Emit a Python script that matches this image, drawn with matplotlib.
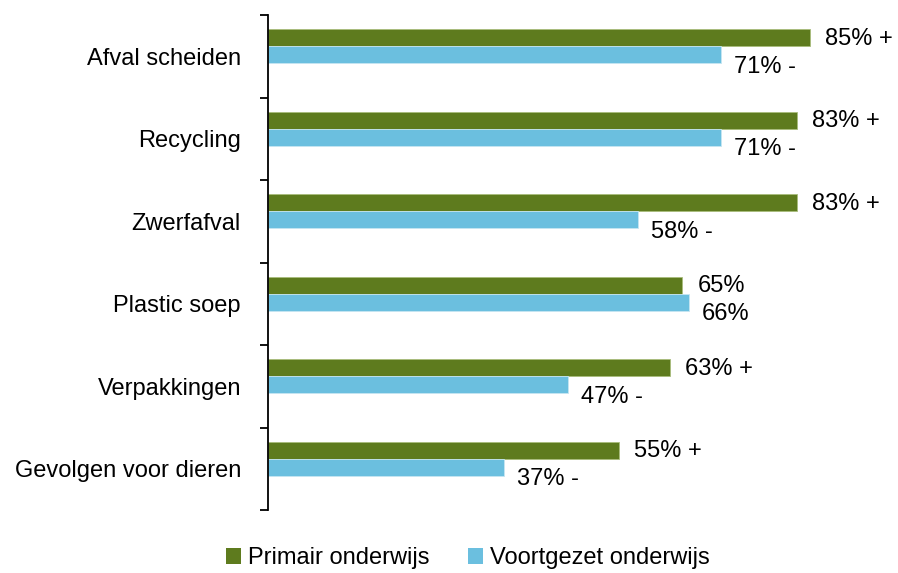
import matplotlib
matplotlib.use("Agg")
import matplotlib.pyplot as plt
import matplotlib.transforms as mtransforms
from matplotlib.patches import Patch
import numpy as np

plt.rcParams["font.family"] = ["Liberation Sans", "DejaVu Sans"]

# dati
categorie = ["Afval scheiden", "Recycling", "Zwerfafval", "Plastic soep",
             "Verpakkingen", "Gevolgen voor dieren"]
primair = [85, 83, 83, 65, 63, 55]
voortgezet = [71, 71, 58, 66, 47, 37]
label_primair = ["85% +", "83% +", "83% +", "65%", "63% +", "55% +"]
label_voortgezet = ["71% -", "71% -", "58% -", "66%", "47% -", "37% -"]
serie = ["Primair onderwijs", "Voortgezet onderwijs"]

col_groen = "#5e7b1e"
col_blauw = "#6bbfdf"

W, H = 898, 573
fig = plt.figure(figsize=(W / 100, H / 100), dpi=100)
px_per = 6.376
xmax = 94
ax = fig.add_axes([268 / W, (H - 510) / H, xmax * px_per / W, 495 / H])

y = np.arange(len(categorie))
h = 0.206
shift = -0.12  # le barre stanno un po' sopra il centro della categoria
ax.barh(y + shift - h / 2, primair, height=h, color=col_groen, edgecolor="#a9bd7c", linewidth=0.6)
ax.barh(y + shift + h / 2, voortgezet, height=h, color=col_blauw, edgecolor="#c6e6f2", linewidth=0.6)

ax.set_xlim(0, xmax)
ax.set_ylim(len(categorie) - 0.5, -0.5)

# etichette dei valori
fs = 17
off_g = mtransforms.offset_copy(ax.transData, fig=fig, x=15, y=-1, units="dots")
off_b = mtransforms.offset_copy(ax.transData, fig=fig, x=13, y=-12, units="dots")
for i in range(len(categorie)):
    ax.text(primair[i], y[i] + shift - h / 2, label_primair[i], transform=off_g,
            ha="left", va="center", fontsize=fs)
    ax.text(voortgezet[i], y[i] + shift + h / 2, label_voortgezet[i], transform=off_b,
            ha="left", va="center", fontsize=fs)

# assi
for s in ["top", "right", "bottom"]:
    ax.spines[s].set_visible(False)
ax.spines["left"].set_linewidth(1.3)
ax.set_xticks([])
ax.set_yticks(np.arange(-0.5, len(categorie)), labels=[""] * (len(categorie) + 1))
ax.tick_params(axis="y", which="major", length=6, width=1.3, direction="out")
ax.set_yticks(y, labels=categorie, minor=True)
ax.tick_params(axis="y", which="minor", length=0, pad=19.5, labelsize=fs)

handles = [Patch(facecolor=col_groen), Patch(facecolor=col_blauw)]
fig.legend(handles, serie, loc="center", bbox_to_anchor=(468 / W, 1 - 558 / H),
           ncol=2, frameon=False, fontsize=fs, handlelength=0.65, handleheight=0.65,
           handletextpad=0.3, columnspacing=1.6)

fig.savefig("out.png", dpi=100)
